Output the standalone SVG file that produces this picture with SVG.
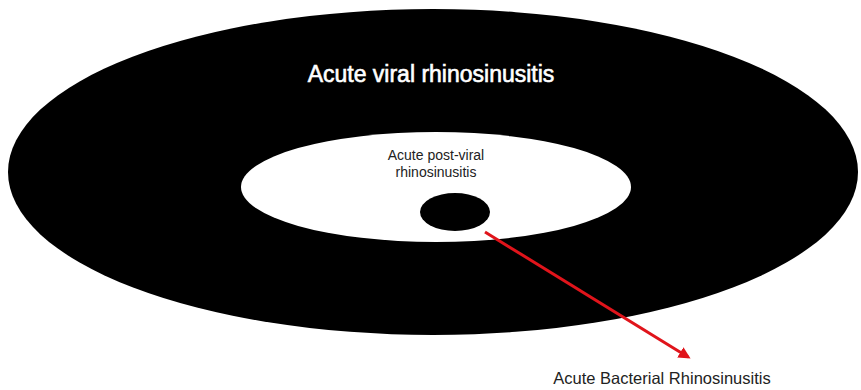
<svg xmlns="http://www.w3.org/2000/svg" width="861" height="390" viewBox="0 0 861 390">
<style>
text{font-family:"Liberation Sans",Arial,sans-serif;text-anchor:middle}
.dark{fill:#222}
</style>
<defs>
<marker id="ah" markerWidth="12" markerHeight="12" refX="9" refY="6" orient="auto" markerUnits="userSpaceOnUse" viewBox="0 0 12 12">
<path d="M0,0 L12,6 L0,12 z" fill="#e0141b"/>
</marker>
</defs>
<rect width="861" height="390" fill="#fff"/>
<g id="outer">
<ellipse cx="433" cy="172" rx="425" ry="163" fill="#000"/>
<text x="431" y="82" font-size="23" fill="#fff" stroke="#fff" stroke-width="0.6">Acute viral rhinosinusitis</text>
</g>
<g id="inner">
<ellipse cx="436" cy="187" rx="195" ry="55" fill="#fff"/>
<text class="dark" x="436" y="160" font-size="14">Acute post-viral</text>
<text class="dark" x="436" y="177" font-size="14">rhinosinusitis</text>
</g>
<g id="core">
<ellipse cx="455" cy="212" rx="35" ry="19" fill="#000"/>
</g>
<g id="connectors">
<line x1="485" y1="232" x2="688" y2="357" stroke="#e0141b" stroke-width="3" marker-end="url(#ah)"/>
</g>
<g id="bacterial">
<text class="dark" x="662" y="384" font-size="16.5">Acute Bacterial Rhinosinusitis</text>
</g>
</svg>
